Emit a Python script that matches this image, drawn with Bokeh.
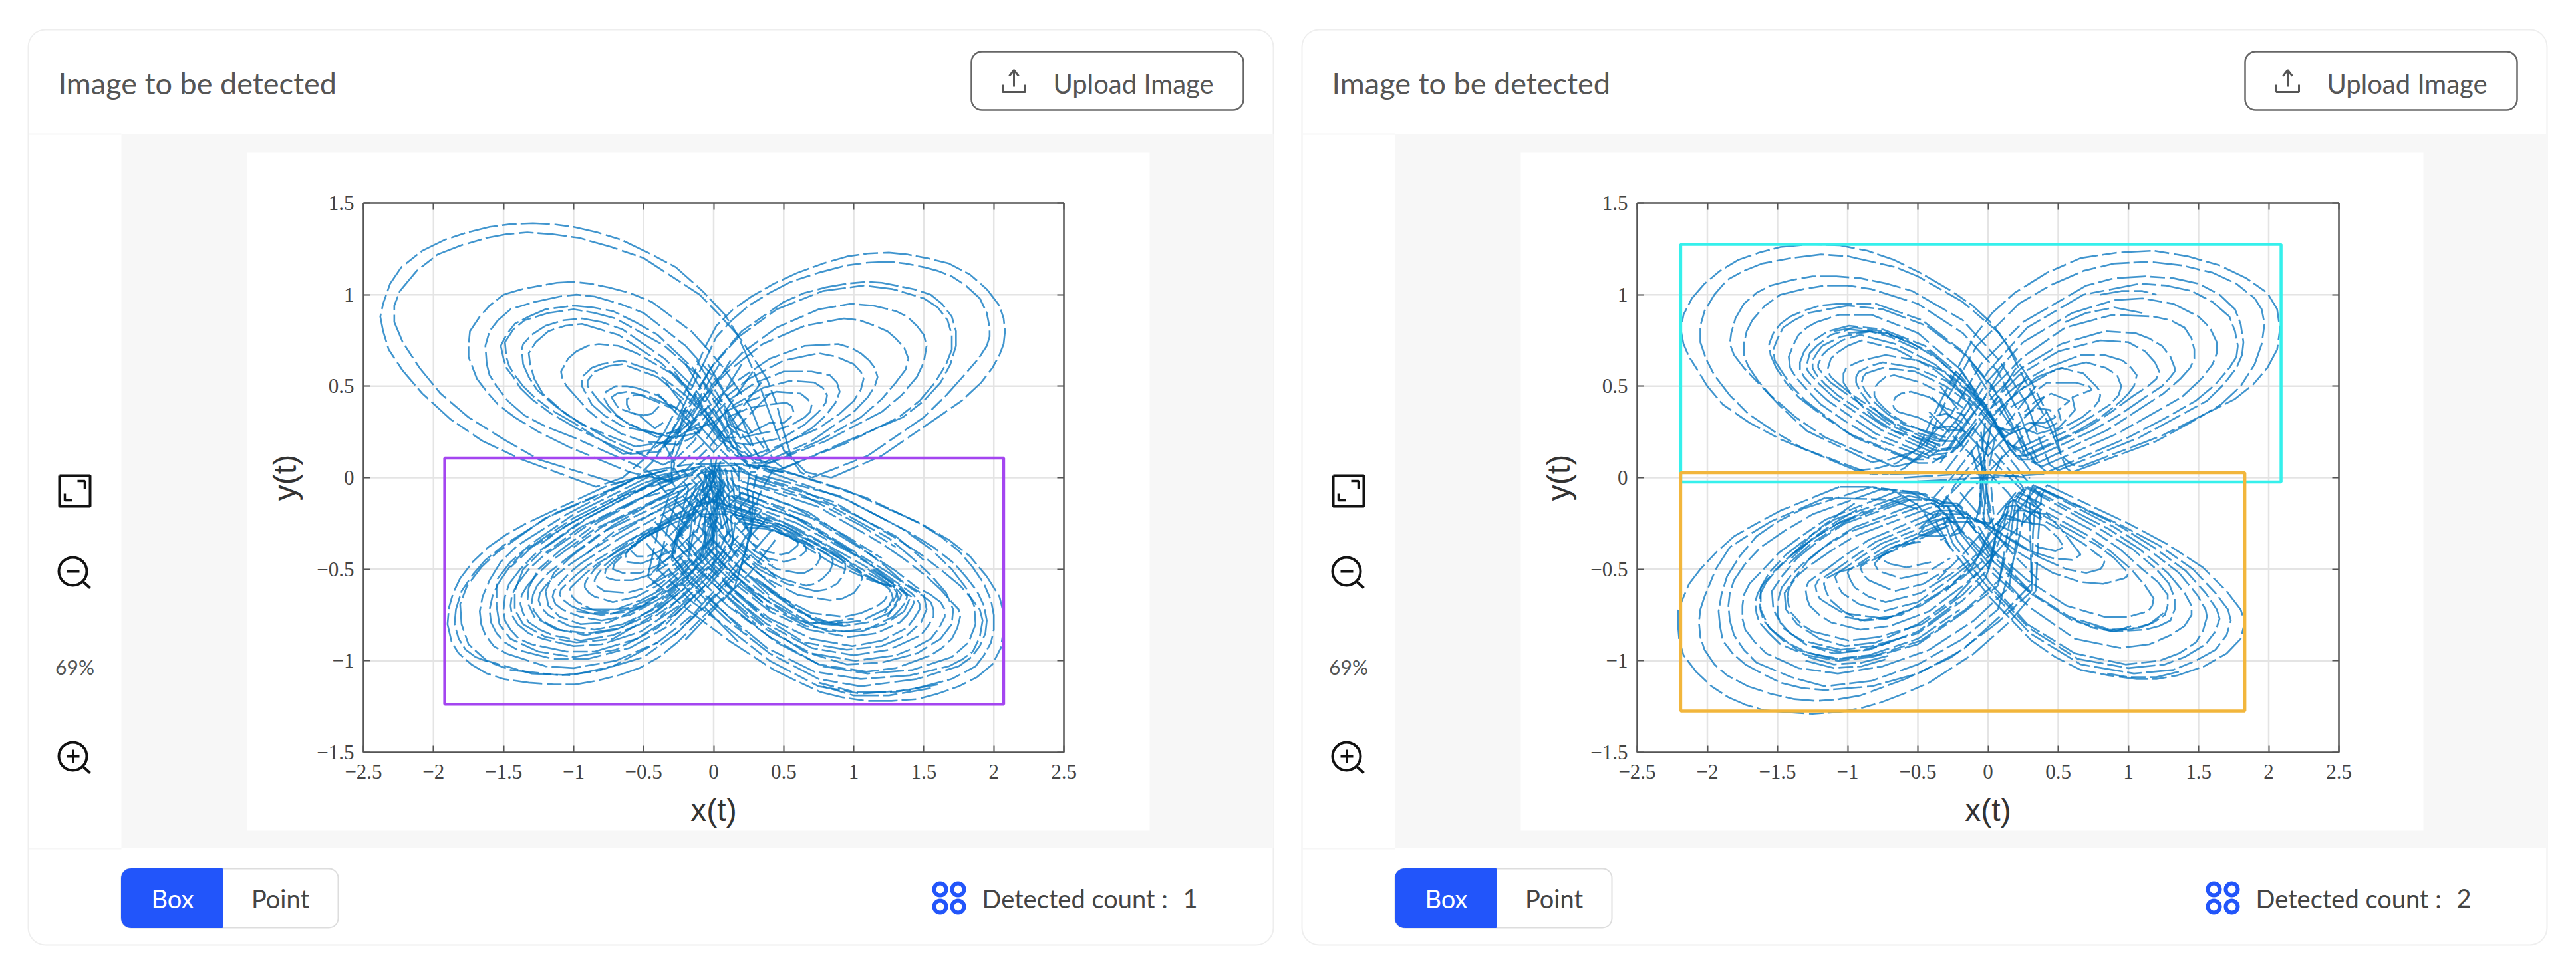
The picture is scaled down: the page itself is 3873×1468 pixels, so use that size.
# Two "Image to be detected" panels with the four wing attractor and detection boxes
from bokeh.core.properties import value
from bokeh.embed import file_html
from bokeh.layouts import row
from bokeh.models import BoxAnnotation, FixedTicker, LinearAxis, Range1d
from bokeh.plotting import figure
from bokeh.resources import INLINE

TICKS_X = [-2.5, -2, -1.5, -1, -0.5, 0, 0.5, 1, 1.5, 2, 2.5]
TICK_LABELS_X = ["−2.5", "−2", "−1.5", "−1", "−0.5", "0", "0.5", "1", "1.5", "2", "2.5"]
TICKS_Y = [-1.5, -1, -0.5, 0, 0.5, 1, 1.5]
TICK_LABELS_Y = ["−1.5", "−1", "−0.5", "0", "0.5", "1", "1.5"]

TITLE = "Image to be detected"
UPLOAD = "Upload Image"
ZOOM = "69%"
MODES = ["Box", "Point"]
COUNT_LABEL = "Detected count :"
COUNT_LEFT = "1"
COUNT_RIGHT = "2"

# detection boxes
BOX1_LEFT, BOX1_RIGHT, BOX1_TOP, BOX1_BOTTOM = [-1.92], [2.07], [0.107], [-1.238]
BOX2_LEFT, BOX2_RIGHT, BOX2_TOP, BOX2_BOTTOM = [-2.19, -2.19], [2.088, 1.83], [1.275, 0.027], [-0.024, -1.275]
BOX2_COLORS = ["#35f0ec", "#f2b63c"]

c1_tl = [
    [(-.84,-.05),(-1.37,.10),(-1.65,.2),(-1.88,.32),(-2.08,.46),(-2.22,.585),(-2.32,.7),(-2.36,.80),(-2.38,.88),(-2.36,.95),(-2.31,1.06),(-2.23,1.15),(-2.08,1.24),(-1.92,1.30),(-1.76,1.34),(-1.6,1.37),(-1.45,1.385),(-1.29,1.39),(-1.15,1.385),(-1,1.37),(-.83,1.34),(-.66,1.30),(-.47,1.23),(-.27,1.15),(-.08,1.02),(.08,.89),(.17,.78),(.24,.66),(.33,.5),(.4,.35)],
    [(-.70,-.03),(-1.25,.1),(-1.5,.21),(-1.75,.33),(-1.95,.46),(-2.1,.6),(-2.22,.74),(-2.28,.85),(-2.28,.94),(-2.24,1.02),(-2.12,1.13),(-1.97,1.22),(-1.8,1.27),(-1.62,1.31),(-1.48,1.33),(-1.33,1.34),(-1.15,1.33),(-.96,1.31),(-.73,1.26),(-.5,1.2),(-.3,1.1),(-.1,1),(.04,.89),(.17,.78),(.28,.66),(.38,.54),(.45,.4),(.5,.25)],
    [(-.3,-.02),(-.6,.03),(-1.04,.17),(-1.25,.25),(-1.42,.33),(-1.54,.4),(-1.62,.47),(-1.69,.54),(-1.72,.6),(-1.75,.66),(-1.75,.72),(-1.74,.8),(-1.67,.88),(-1.6,.94),(-1.5,1),(-1.37,1.03),(-1.23,1.05),(-1.12,1.065),(-1,1.07),(-.88,1.06),(-.75,1.04),(-.6,1.01),(-.44,.96),(-.3,.88),(-.16,.8),(-.04,.7),(.07,.6),(.26,.39)],
    [(-.3,-.03),(-.56,.07),(-1,.22),(-1.2,.28),(-1.35,.34),(-1.47,.42),(-1.55,.5),(-1.6,.56),(-1.62,.62),(-1.63,.72),(-1.6,.8),(-1.54,.86),(-1.45,.92),(-1.28,.96),(-1.1,.99),(-.98,1),(-.85,.99),(-.67,.95),(-.5,.9),(-.35,.81),(-.2,.72),(0,.55),(.2,.32)],
    [(-.6,.13),(-.98,.27),(-1.16,.35),(-1.3,.43),(-1.38,.49),(-1.43,.55),(-1.48,.6),(-1.5,.65),(-1.52,.72),(-1.48,.78),(-1.42,.84),(-1.32,.88),(-1.2,.92),(-1.1,.93),(-1,.94),(-.86,.93),(-.72,.91),(-.56,.85),(-.4,.78),(-.15,.6),(.1,.35)],
    [(-.65,.13),(-1,.3),(-1.16,.37),(-1.28,.44),(-1.36,.5),(-1.42,.56),(-1.46,.61),(-1.48,.66),(-1.49,.74),(-1.43,.81),(-1.35,.86),(-1.18,.9),(-1,.92),(-.85,.9),(-.7,.87),(-.35,.72),(-.1,.55),(.1,.3)],
    [(-.36,.07),(-.75,.21),(-1.04,.34),(-1.16,.41),(-1.26,.48),(-1.32,.55),(-1.36,.62),(-1.37,.7),(-1.36,.73),(-1.3,.78),(-1.2,.83),(-1.07,.86),(-.94,.87),(-.8,.85),(-.65,.81),(-.35,.65),(-.15,.5),(.05,.3)],
    [(-.56,.17),(-.94,.29),(-1.09,.37),(-1.22,.46),(-1.28,.54),(-1.31,.62),(-1.32,.68),(-1.27,.74),(-1.18,.8),(-1.06,.83),(-.94,.84),(-.68,.78),(-.38,.63),(-.15,.47),(.02,.28)],
    [(-.26,.18),(-.51,.2),(-.66,.24),(-.79,.3),(-.9,.37),(-.98,.44),(-1.05,.5),(-1.08,.54),(-1.09,.58),(-1.04,.65),(-.98,.69),(-.9,.72),(-.82,.73),(-.68,.72),(-.55,.68),(-.3,.57),(-.12,.42),(.1,.2)],
    [(-.4,.24),(-.65,.28),(-.78,.34),(-.87,.4),(-.94,.5),(-.94,.55),(-.87,.6),(-.8,.62),(-.65,.64),(-.42,.58),(-.2,.45),(-.02,.3)],
    [(-.4,.22),(-.62,.3),(-.74,.36),(-.82,.42),(-.9,.5),(-.9,.53),(-.85,.58),(-.75,.61),(-.65,.62),(-.4,.55),(-.2,.42)],
    [(-.3,.22),(-.49,.26),(-.6,.29),(-.69,.34),(-.75,.39),(-.78,.43),(-.77,.47),(-.7,.5),(-.62,.5),(-.55,.49),(-.4,.45),(-.25,.37),(-.1,.25)],
    [(-.36,.3),(-.42,.27),(-.53,.34),(-.68,.38),(-.73,.44),(-.69,.46),(-.62,.47),(-.45,.44),(-.33,.4),(-.2,.36)],
    [(-.39,.39),(-.44,.35),(-.5,.34),(-.57,.35),(-.6,.37),(-.62,.4),(-.62,.43),(-.57,.45),(-.52,.45),(-.42,.42),(-.3,.38)],
]

# left chart, top right wing
c1_tr = [
    [(.84,0),(1.2,.12),(1.6,.33),(1.77,.42),(1.91,.52),(1.99,.6),(2.04,.67),(2.07,.73),(2.08,.8),(2.07,.87),(2.04,.94),(1.95,1.03),(1.83,1.11),(1.68,1.17),(1.52,1.2),(1.38,1.22),(1.25,1.23),(1.1,1.225),(.96,1.21),(.78,1.17),(.6,1.12),(.43,1.06),(.27,.99),(.14,.92),(.02,.83),(-.07,.7),(-.15,.55),(-.35,.25)],
    [(.7,0),(1.1,.12),(1.5,.33),(1.66,.45),(1.8,.57),(1.89,.65),(1.95,.72),(1.97,.77),(1.97,.82),(1.95,.9),(1.9,.98),(1.8,1.05),(1.7,1.1),(1.6,1.13),(1.5,1.15),(1.37,1.17),(1.25,1.18),(1.1,1.175),(.95,1.16),(.75,1.12),(.55,1.07),(.4,1.01),(.25,.94),(.13,.86),(.02,.77),(-.15,.5),(-.3,.25)],
    [(.5,.05),(.95,.2),(1.35,.33),(1.5,.42),(1.62,.52),(1.69,.62),(1.73,.72),(1.73,.8),(1.7,.88),(1.63,.95),(1.55,1),(1.43,1.03),(1.3,1.05),(1.2,1.065),(1.09,1.07),(.95,1.06),(.8,1.04),(.65,1.01),(.5,.96),(.2,.8),(0,.62),(-.2,.38),(-.35,.18)],
    [(.42,.03),(.95,.19),(1.32,.33),(1.47,.42),(1.58,.52),(1.66,.62),(1.7,.7),(1.7,.78),(1.67,.86),(1.6,.93),(1.5,.98),(1.28,1.03),(1.07,1.05),(.78,1.02),(.45,.92),(.18,.77),(-.02,.6),(-.2,.35)],
    [(.4,.08),(.8,.2),(1.2,.36),(1.34,.45),(1.45,.55),(1.5,.63),(1.52,.72),(1.5,.78),(1.45,.83),(1.38,.88),(1.3,.91),(1.14,.94),(.98,.95),(.75,.92),(.45,.82),(.2,.68),(-.02,.5),(-.2,.28)],
    [(.3,.05),(.75,.2),(1.05,.33),(1.2,.43),(1.3,.52),(1.37,.59),(1.39,.65),(1.36,.71),(1.3,.76),(1.24,.8),(1.15,.83),(1.04,.86),(.93,.87),(.65,.83),(.35,.73),(.1,.58),(-.1,.42),(-.25,.25)],
    [(.35,.08),(.7,.2),(1,.36),(1.1,.44),(1.15,.5),(1.17,.55),(1.15,.6),(1.11,.64),(1.05,.68),(.98,.71),(.89,.73),(.65,.72),(.4,.65),(.15,.52),(-.05,.38),(-.2,.25)],
    [(.2,.1),(.45,.17),(.75,.27),(.9,.35),(1,.42),(1.05,.48),(1.07,.54),(1.05,.58),(1,.62),(.88,.66),(.75,.68),(.5,.64),(.25,.54),(.05,.42),(-.1,.3)],
    [(.3,.1),(.55,.2),(.7,.27),(.8,.34),(.87,.41),(.9,.47),(.88,.52),(.83,.56),(.7,.58),(.5,.58),(.3,.52),(.1,.42),(-.05,.3)],
    [(.25,.18),(.5,.22),(.65,.29),(.75,.36),(.8,.41),(.81,.45),(.78,.49),(.72,.52),(.55,.53),(.35,.49),(.15,.4),(0,.3)],
    [(.2,.22),(.45,.26),(.56,.29),(.65,.33),(.69,.36),(.7,.4),(.67,.43),(.62,.46),(.45,.47),(.25,.42),(.08,.36)],
    [(.25,.24),(.4,.3),(.5,.3),(.55,.33),(.57,.36),(.56,.39),(.52,.41),(.4,.4),(.25,.38),(.1,.33)],
]

# left chart, bottom left wing
c1_bl = [
    [(-.78,-.05),(-1.06,-.15),(-1.34,-.25),(-1.48,-.31),(-1.61,-.38),(-1.72,-.46),(-1.81,-.55),(-1.86,-.63),(-1.89,-.71),(-1.9,-.8),(-1.87,-.9),(-1.82,-.96),(-1.73,-1.02),(-1.62,-1.07),(-1.5,-1.1),(-1.32,-1.12),(-1.14,-1.13),(-.99,-1.13),(-.84,-1.11),(-.68,-1.08),(-.53,-1.04),(-.39,-.98),(-.26,-.9),(-.05,-.74),(.15,-.6)],
    [(-.6,-.02),(-1.15,-.2),(-1.5,-.37),(-1.63,-.45),(-1.72,-.53),(-1.8,-.62),(-1.84,-.72),(-1.85,-.8),(-1.82,-.88),(-1.77,-.94),(-1.7,-.98),(-1.45,-1.05),(-1.1,-1.08),(-.85,-1.06),(-.5,-.98),(-.25,-.84),(-.03,-.68),(.18,-.52)],
    [(-.55,0),(-1.05,-.2),(-1.4,-.37),(-1.52,-.46),(-1.6,-.56),(-1.65,-.65),(-1.67,-.73),(-1.66,-.8),(-1.63,-.86),(-1.57,-.92),(-1.48,-.96),(-1.2,-1.03),(-1,-1.04),(-.7,-1),(-.4,-.9),(-.15,-.75),(.05,-.58),(.22,-.42)],
    [(-.5,-.03),(-1,-.22),(-1.35,-.4),(-1.46,-.49),(-1.54,-.58),(-1.58,-.65),(-1.6,-.72),(-1.59,-.79),(-1.55,-.85),(-1.49,-.9),(-1.4,-.94),(-1.15,-.99),(-.9,-.99),(-.6,-.93),(-.3,-.8),(-.08,-.63),(.1,-.47),(.25,-.3)],
    [(-.42,-.02),(-.95,-.24),(-1.28,-.42),(-1.38,-.5),(-1.46,-.58),(-1.49,-.65),(-1.5,-.72),(-1.49,-.78),(-1.45,-.83),(-1.39,-.88),(-1.3,-.91),(-1.05,-.95),(-.85,-.95),(-.55,-.88),(-.28,-.75),(-.05,-.58),(.12,-.4)],
    [(-.36,-.05),(-.9,-.26),(-1.22,-.43),(-1.32,-.5),(-1.4,-.58),(-1.44,-.64),(-1.45,-.7),(-1.44,-.75),(-1.4,-.8),(-1.32,-.85),(-1.22,-.88),(-1,-.92),(-.8,-.91),(-.52,-.84),(-.25,-.7),(-.04,-.54),(.14,-.36)],
    [(-.3,-.08),(-.85,-.28),(-1.15,-.45),(-1.25,-.52),(-1.33,-.59),(-1.37,-.64),(-1.38,-.69),(-1.36,-.74),(-1.32,-.79),(-1.24,-.83),(-1.15,-.86),(-.95,-.89),(-.72,-.86),(-.46,-.78),(-.22,-.65),(-.02,-.5),(.12,-.33)],
    [(-.26,-.1),(-.8,-.3),(-1.08,-.46),(-1.18,-.52),(-1.26,-.59),(-1.29,-.64),(-1.3,-.69),(-1.28,-.73),(-1.24,-.77),(-1.18,-.8),(-1.1,-.83),(-.92,-.86),(-.7,-.83),(-.43,-.74),(-.2,-.6),(0,-.46),(.1,-.3)],
    [(-.22,-.1),(-.72,-.32),(-1.02,-.47),(-1.12,-.53),(-1.2,-.59),(-1.24,-.63),(-1.25,-.67),(-1.23,-.71),(-1.18,-.75),(-1.11,-.78),(-1.03,-.81),(-.85,-.83),(-.65,-.8),(-.4,-.71),(-.18,-.57),(.02,-.42)],
    [(-.2,-.13),(-.65,-.32),(-.95,-.47),(-1.03,-.52),(-1.1,-.58),(-1.14,-.62),(-1.15,-.65),(-1.13,-.69),(-1.08,-.72),(-1.02,-.74),(-.95,-.76),(-.8,-.78),(-.6,-.75),(-.38,-.66),(-.16,-.52),(0,-.38)],
    [(-.22,-.18),(-.6,-.34),(-.9,-.48),(-.98,-.53),(-1.05,-.58),(-1.09,-.61),(-1.1,-.64),(-1.07,-.67),(-1.02,-.7),(-.96,-.72),(-.88,-.74),(-.72,-.74),(-.52,-.7),(-.33,-.62),(-.14,-.5),(0,-.35)],
    [(-.25,-.2),(-.55,-.34),(-.83,-.47),(-.91,-.52),(-.98,-.57),(-1.02,-.6),(-1.03,-.62),(-1.01,-.65),(-.97,-.68),(-.92,-.7),(-.87,-.72),(-.7,-.72),(-.52,-.67),(-.32,-.59),(-.14,-.46),(0,-.32)],
    [(-.28,-.23),(-.55,-.32),(-.78,-.45),(-.85,-.5),(-.9,-.55),(-.92,-.58),(-.92,-.6),(-.89,-.63),(-.85,-.65),(-.72,-.68),(-.55,-.65),(-.38,-.58),(-.22,-.48),(-.06,-.36)],
    [(-.3,-.23),(-.5,-.33),(-.72,-.44),(-.78,-.48),(-.83,-.53),(-.85,-.56),(-.85,-.58),(-.82,-.6),(-.78,-.62),(-.62,-.63),(-.48,-.6),(-.32,-.53),(-.18,-.44)],
    [(-.32,-.26),(-.5,-.33),(-.68,-.43),(-.73,-.47),(-.77,-.5),(-.78,-.54),(-.75,-.55),(-.7,-.56),(-.58,-.56),(-.45,-.53),(-.3,-.46),(-.18,-.39)],
    [(-.35,-.27),(-.5,-.33),(-.63,-.41),(-.71,-.47),(-.72,-.5),(-.65,-.52),(-.52,-.52),(-.4,-.48),(-.28,-.42)],
    [(-.38,-.27),(-.5,-.31),(-.58,-.37),(-.63,-.42),(-.62,-.46),(-.52,-.47),(-.42,-.44),(-.3,-.4)],
    [(-.4,-.29),(-.48,-.32),(-.55,-.36),(-.59,-.4),(-.55,-.43),(-.47,-.43),(-.38,-.4),(-.33,-.36)],
    [(-.62,-.03),(-1.2,-.22),(-1.55,-.41),(-1.66,-.49),(-1.76,-.59),(-1.81,-.69),(-1.8,-.8),(-1.75,-.91),(-1.62,-1),(-1.3,-1.07),(-1.02,-1.08),(-.72,-1.03),(-.4,-.9)],
    [(-.45,.01),(-1,-.2),(-1.3,-.36),(-1.45,-.46),(-1.55,-.56),(-1.55,-.7),(-1.53,-.8),(-1.45,-.88),(-1.25,-.95),(-1,-.98),(-.7,-.94),(-.4,-.82),(-.15,-.64)],
    [(-.38,-.01),(-.9,-.22),(-1.2,-.38),(-1.36,-.5),(-1.42,-.62),(-1.42,-.72),(-1.36,-.8),(-1.2,-.87),(-.98,-.9),(-.72,-.88),(-.45,-.76),(-.2,-.6)],
    [(-.34,-.04),(-.82,-.24),(-1.1,-.4),(-1.25,-.5),(-1.32,-.6),(-1.33,-.68),(-1.28,-.76),(-1.12,-.83),(-.9,-.85),(-.66,-.82),(-.4,-.7),(-.18,-.55)],
    [(-.28,-.07),(-.72,-.26),(-1,-.42),(-1.14,-.52),(-1.2,-.62),(-1.18,-.7),(-1.1,-.76),(-.95,-.8),(-.75,-.79),(-.5,-.7),(-.26,-.56),(-.08,-.42)],
]

# left chart, bottom right wing
c1_br = [
    [(.57,.02),(1.09,-.11),(1.5,-.26),(1.68,-.34),(1.83,-.43),(1.95,-.54),(2.04,-.65),(2.07,-.74),(2.07,-.83),(2.05,-.93),(1.99,-1.02),(1.88,-1.09),(1.75,-1.14),(1.6,-1.18),(1.45,-1.21),(1.27,-1.22),(1.09,-1.22),(.92,-1.2),(.76,-1.17),(.59,-1.11),(.43,-1.05),(.11,-.89),(-.17,-.73),(-.47,-.54)],
    [(.45,.05),(.95,-.07),(1.45,-.24),(1.62,-.32),(1.75,-.4),(1.85,-.49),(1.93,-.58),(1.98,-.67),(2,-.75),(2,-.83),(1.98,-.9),(1.93,-.97),(1.87,-1.03),(1.7,-1.1),(1.4,-1.16),(1.05,-1.18),(.75,-1.14),(.4,-1),(.1,-.82),(-.15,-.68),(-.4,-.5)],
    [(.4,.03),(.95,-.12),(1.4,-.3),(1.57,-.38),(1.72,-.47),(1.81,-.55),(1.88,-.62),(1.93,-.7),(1.95,-.78),(1.94,-.85),(1.9,-.92),(1.84,-.98),(1.75,-1.03),(1.45,-1.1),(1.05,-1.14),(.75,-1.1),(.4,-.96),(.1,-.78),(-.12,-.62),(-.3,-.45)],
    [(.3,0),(.85,-.13),(1.3,-.33),(1.48,-.42),(1.65,-.52),(1.76,-.59),(1.84,-.66),(1.9,-.72),(1.92,-.78),(1.9,-.87),(1.85,-.95),(1.78,-.99),(1.68,-1.03),(1.4,-1.08),(1.05,-1.1),(.72,-1.06),(.38,-.93),(.08,-.74),(-.15,-.58),(-.3,-.42)],
    [(.2,-.02),(.75,-.16),(1.2,-.36),(1.37,-.45),(1.52,-.54),(1.62,-.61),(1.7,-.68),(1.75,-.72),(1.76,-.76),(1.74,-.82),(1.7,-.88),(1.63,-.93),(1.55,-.97),(1.3,-1.04),(1.09,-1.06),(.75,-1.02),(.4,-.87),(.1,-.7),(-.15,-.52),(-.3,-.38)],
    [(.18,-.08),(.7,-.22),(1.12,-.42),(1.3,-.51),(1.45,-.6),(1.55,-.64),(1.62,-.68),(1.65,-.72),(1.65,-.76),(1.61,-.82),(1.55,-.88),(1.43,-.93),(1.3,-.97),(1.01,-1),(.7,-.96),(.38,-.83),(.1,-.65),(-.12,-.5),(-.28,-.35)],
    [(.16,-.1),(.66,-.24),(1.08,-.44),(1.25,-.52),(1.4,-.6),(1.5,-.65),(1.55,-.68),(1.57,-.72),(1.57,-.76),(1.53,-.81),(1.48,-.86),(1.25,-.94),(1,-.97),(.7,-.93),(.38,-.8),(.1,-.63),(-.1,-.48),(-.26,-.33)],
    [(.15,-.12),(.6,-.25),(1,-.42),(1.17,-.5),(1.32,-.58),(1.41,-.63),(1.45,-.66),(1.47,-.69),(1.47,-.72),(1.43,-.77),(1.38,-.82),(1.2,-.89),(.99,-.92),(.7,-.88),(.4,-.77),(.12,-.6),(-.1,-.45),(-.25,-.3)],
    [(.12,-.12),(.58,-.27),(.98,-.44),(1.14,-.51),(1.28,-.58),(1.37,-.63),(1.41,-.65),(1.43,-.68),(1.42,-.7),(1.38,-.75),(1.33,-.79),(1.16,-.85),(.96,-.87),(.68,-.83),(.4,-.73),(.12,-.56),(-.08,-.42)],
    [(.1,-.14),(.55,-.28),(.95,-.45),(1.1,-.52),(1.24,-.58),(1.33,-.61),(1.36,-.63),(1.38,-.65),(1.37,-.68),(1.33,-.72),(1.28,-.76),(1.12,-.82),(.93,-.84),(.66,-.81),(.38,-.7),(.12,-.54),(-.06,-.4)],
    [(.08,-.15),(.52,-.27),(.92,-.45),(1.06,-.52),(1.2,-.58),(1.29,-.6),(1.32,-.62),(1.34,-.64),(1.33,-.66),(1.3,-.7),(1.25,-.74),(1.1,-.79),(.93,-.81),(.66,-.79),(.38,-.67),(.12,-.52),(-.04,-.38)],
    [(.06,-.16),(.5,-.28),(.9,-.46),(1.04,-.52),(1.17,-.57),(1.26,-.59),(1.29,-.61),(1.31,-.63),(1.3,-.65),(1.27,-.69),(1.22,-.72),(1.06,-.78),(.86,-.8),(.68,-.79),(.4,-.66),(.14,-.5),(-.02,-.36)],
    [(.08,-.18),(.45,-.28),(.85,-.47),(1,-.52),(1.12,-.56),(1.2,-.58),(1.24,-.6),(1.26,-.615),(1.25,-.63),(1.22,-.67),(1.17,-.7),(1.05,-.74),(.93,-.76),(.7,-.74),(.42,-.63),(.16,-.48),(0,-.34)],
    [(.14,-.16),(.48,-.24),(.78,-.36),(.9,-.42),(1,-.48),(1.05,-.52),(1.06,-.55),(1.04,-.59),(1,-.63),(.92,-.66),(.83,-.67),(.6,-.64),(.35,-.54),(.15,-.42),(.05,-.3)],
    [(.14,-.2),(.42,-.25),(.7,-.35),(.82,-.4),(.9,-.44),(.94,-.47),(.94,-.5),(.92,-.54),(.88,-.58),(.81,-.61),(.73,-.62),(.52,-.58),(.32,-.5),(.15,-.38)],
    [(.16,-.22),(.4,-.26),(.65,-.35),(.75,-.39),(.82,-.42),(.85,-.45),(.85,-.47),(.83,-.51),(.78,-.55),(.72,-.58),(.66,-.59),(.48,-.55),(.3,-.47),(.15,-.36)],
    [(.18,-.24),(.38,-.27),(.6,-.34),(.68,-.37),(.74,-.4),(.76,-.42),(.76,-.44),(.74,-.47),(.7,-.5),(.65,-.52),(.6,-.52),(.45,-.5),(.3,-.43),(.18,-.35)],
    [(.2,-.25),(.38,-.27),(.55,-.33),(.64,-.36),(.66,-.38),(.66,-.4),(.6,-.44),(.5,-.46),(.38,-.44),(.27,-.39)],
    [(.22,-.27),(.38,-.28),(.5,-.31),(.58,-.33),(.6,-.35),(.6,-.37),(.54,-.41),(.48,-.42),(.36,-.4),(.28,-.36)],
    [(.35,.01),(.9,-.1),(1.35,-.28),(1.55,-.39),(1.7,-.5),(1.8,-.6),(1.86,-.7),(1.87,-.8),(1.82,-.9),(1.7,-.98),(1.42,-1.05),(1.1,-1.07),(.78,-1.03),(.45,-.9),(.15,-.72)],
    [(.26,-.03),(.8,-.14),(1.25,-.33),(1.42,-.44),(1.56,-.54),(1.66,-.63),(1.71,-.72),(1.7,-.8),(1.62,-.88),(1.45,-.96),(1.2,-1.01),(.95,-1.02),(.65,-.95),(.35,-.8),(.1,-.62)],
    [(.22,-.06),(.68,-.19),(1.05,-.38),(1.22,-.48),(1.35,-.57),(1.5,-.64),(1.52,-.72),(1.48,-.79),(1.38,-.86),(1.2,-.92),(.95,-.94),(.65,-.9),(.35,-.76),(.08,-.58)],
    [(.12,-.1),(.6,-.22),(.98,-.4),(1.13,-.48),(1.24,-.55),(1.34,-.6),(1.4,-.66),(1.36,-.73),(1.22,-.8),(1.05,-.84),(.82,-.84),(.55,-.76),(.28,-.62),(.05,-.46)],
]

# left chart, the lines through the middle
c1_mid = [
    [(-.47,-.54),(-.4,-.3),(-.32,-.1),(-.45,.02),(-.78,-.05)],[(-.4,-.5),(-.33,-.28),(-.25,-.08),(-.35,.04),(-.6,-.02)],
    [(-.3,-.45),(-.25,-.25),(-.18,-.06),(-.28,.05),(-.55,0)],[(-.3,-.42),(-.22,-.22),(-.12,-.04),(-.22,.04),(-.5,-.03)],
    [(-.3,-.38),(-.18,-.2),(-.08,-.02),(-.15,.05),(-.42,-.02)],[(-.28,-.35),(-.14,-.18),(-.05,0),(-.1,.05),(-.36,-.05)],
    [(-.26,-.33),(-.1,-.16),(-.02,.02),(-.08,.07),(-.3,-.08)],[(-.25,-.3),(-.08,-.14),(.02,.02),(-.05,.06),(-.26,-.1)],
    [(-.1,-.45),(-.04,-.25),(.04,-.05),(-.02,.03),(-.22,-.1)],[(-.08,-.42),(-.02,-.22),(.06,-.03),(0,.04),(-.2,-.13)],
    [(-.06,-.4),(0,-.2),(.08,-.04),(.02,.01),(-.22,-.18)],[(-.04,-.38),(.02,-.2),(.06,-.08),(0,-.05),(-.25,-.2)],
    [(-.02,-.36),(.03,-.2),(.02,-.12),(-.08,-.14),(-.28,-.23)],[(0,-.34),(.02,-.22),(-.05,-.17),(-.3,-.23)],[(.05,-.3),(-.02,-.22),(-.15,-.2),(-.32,-.26)],
    [(.15,-.6),(.25,-.34),(.32,-.1),(.42,.04),(.57,.02)],[(.18,-.52),(.27,-.3),(.28,-.08),(.32,.07),(.45,.05)],
    [(.22,-.42),(.27,-.26),(.24,-.06),(.26,.07),(.4,.03)],[(.25,-.3),(.2,-.2),(.18,-.04),(.18,.06),(.3,0)],
    [(.12,-.4),(.16,-.22),(.14,-.04),(.12,.07),(.2,-.02)],[(.14,-.36),(.12,-.2),(.1,-.02),(.08,.05),(.18,-.08)],
    [(.12,-.33),(.08,-.18),(.06,-.02),(.04,.06),(.16,-.1)],[(.1,-.3),(.05,-.16),(.02,-.02),(0,.07),(.15,-.12)],
    [(.02,-.42),(.02,-.22),(-.02,-.04),(-.04,.06),(.12,-.12)],[(0,-.38),(-.01,-.2),(-.05,-.04),(-.06,.05),(.1,-.14)],
    [(0,-.35),(-.03,-.2),(-.08,-.06),(-.06,.02),(.08,-.15)],[(-.06,-.36),(-.06,-.22),(-.1,-.1),(-.04,-.04),(.06,-.16)],
    [(-.18,-.44),(-.14,-.28),(-.12,-.14),(-.04,-.1),(.08,-.18)],[(-.18,-.39),(-.16,-.26),(-.14,-.16),(0,-.13),(.14,-.16)],[(-.28,-.42),(-.24,-.28),(-.16,-.2),(.14,-.2)],
    [(.4,.35),(.5,.15),(.66,.03),(.84,0)],[(.5,.25),(.56,.1),(.62,.03),(.7,0)],[(.26,.39),(.36,.2),(.43,.09),(.5,.05)],
    [(.2,.32),(.3,.14),(.36,.06),(.42,.03)],[(.1,.35),(.22,.17),(.3,.1),(.4,.08)],[(.1,.3),(.18,.14),(.24,.07),(.3,.05)],
    [(.05,.3),(.15,.15),(.25,.08),(.35,.08)],[(.02,.28),(.1,.15),(.2,.1)],[(.1,.2),(.2,.12),(.3,.1)],[(-.02,.3),(.08,.2),(.25,.18)],
    [(-.05,.3),(.05,.2),(.3,.1)],[(0,.3),(.08,.22),(.2,.22)],[(.08,.36),(.1,.28),(.2,.22)],[(.1,.33),(.13,.28),(.25,.24)],
    [(-.35,.25),(-.5,.1),(-.65,0),(-.84,-.05)],[(-.3,.25),(-.42,.1),(-.55,0),(-.7,-.03)],[(-.35,.18),(-.28,.08),(-.3,-.02)],
    [(-.2,.38),(-.3,.12),(-.3,-.03)],[(-.2,.28),(-.4,.14),(-.6,.13)],[(-.25,.25),(-.45,.15),(-.65,.13)],[(-.2,.25),(-.28,.1),(-.36,.07)],
    [(-.1,.3),(-.3,.2),(-.56,.17)],[(-.05,.3),(-.15,.22),(-.26,.18)],[(0,.3),(-.2,.25),(-.4,.24)],[(-.05,.38),(-.2,.28),(-.4,.22)],[(-.1,.25),(-.2,.23),(-.3,.22)],
    [(.02,.1),(-.03,-.1),(-.08,-.3)],[(-.02,.1),(.02,-.1),(.06,-.28)],[(.05,.09),(-.06,-.12),(-.12,-.3)],[(.04,.06),(.05,-.1),(.1,-.25)],
    [(-.5,.03),(-.2,.07),(.1,.08),(.4,.06)],[(-.4,.01),(-.1,.06),(.2,.07),(.5,.03)],[(-.35,-.02),(0,.04),(.3,.03)],
    # crossing hatch below the middle
    [(-.42,-.24),(-.2,-.42),(.05,-.62),(.3,-.8)],[(-.36,-.2),(-.14,-.38),(.1,-.58),(.36,-.76)],[(-.32,-.16),(-.08,-.36),(.16,-.54),(.4,-.72)],
    [(-.28,-.12),(-.04,-.32),(.2,-.5),(.42,-.66)],[(-.22,-.1),(0,-.28),(.22,-.46),(.44,-.6)],[(-.16,-.08),(.05,-.26),(.26,-.42),(.44,-.54)],
    [(-.1,-.06),(.1,-.22),(.3,-.38),(.42,-.48)],[(-.04,-.04),(.14,-.2),(.32,-.34)],[(-.46,-.3),(-.26,-.46),(0,-.68),(.24,-.86)],[(-.48,-.36),(-.3,-.52),(-.05,-.72),(.18,-.9)],
    [(.38,-.22),(.14,-.42),(-.1,-.62),(-.34,-.8)],[(.34,-.18),(.1,-.38),(-.14,-.58),(-.38,-.76)],[(.3,-.14),(.06,-.34),(-.18,-.54),(-.42,-.7)],
    [(.26,-.1),(.02,-.3),(-.22,-.5),(-.44,-.64)],[(.2,-.08),(-.02,-.26),(-.26,-.46),(-.44,-.58)],[(.14,-.06),(-.06,-.24),(-.3,-.42),(-.44,-.52)],
    [(.08,-.04),(-.1,-.2),(-.32,-.38),(-.42,-.46)],[(.02,-.02),(-.14,-.18),(-.32,-.32)],[(.42,-.28),(.22,-.46),(-.04,-.68),(-.28,-.86)],[(.44,-.34),(.26,-.52),(0,-.72),(-.22,-.9)],
    # crossing hatch above the middle
    [(-.4,.46),(-.2,.3),(0,.14),(.16,.04)],[(-.34,.52),(-.14,.32),(.04,.16),(.2,.04)],[(-.28,.58),(-.08,.36),(.08,.18),(.26,.06)],
    [(-.2,.62),(-.02,.4),(.14,.2),(.3,.08)],[(-.12,.64),(.04,.44),(.2,.24),(.34,.1)],[(-.04,.62),(.1,.44),(.26,.26),(.38,.14)],
    [(.4,.46),(.2,.3),(0,.14),(-.16,.04)],[(.34,.52),(.14,.32),(-.04,.16),(-.2,.04)],[(.28,.58),(.08,.36),(-.08,.18),(-.26,.06)],
    [(.2,.62),(.02,.4),(-.14,.2),(-.3,.08)],[(.12,.64),(-.04,.44),(-.2,.24),(-.34,.1)],[(.04,.62),(-.1,.44),(-.26,.26),(-.38,.14)],
    # heavy bands along the wing edges
    [(-.2,.02),(-.6,-.08),(-1,-.24),(-1.3,-.38),(-1.45,-.49)],[(-.25,0),(-.65,-.1),(-1.05,-.26),(-1.25,-.37)],[(-.15,-.03),(-.55,-.12),(-.95,-.27),(-1.2,-.41)],
    [(-.2,-.06),(-.5,-.16),(-.8,-.27),(-1,-.38)],[(-.15,-.1),(-.45,-.2),(-.72,-.3),(-.9,-.41)],[(-.95,-.71),(-.8,-.73),(-.6,-.71),(-.42,-.65)],[(-.98,-.73),(-.8,-.75),(-.6,-.73),(-.45,-.68)],
    [(.2,.03),(.6,-.06),(1,-.2),(1.3,-.32),(1.5,-.45)],[(.25,0),(.65,-.1),(1.05,-.26),(1.3,-.38)],[(.15,-.04),(.55,-.15),(.95,-.32),(1.2,-.44)],
    [(.2,-.08),(.5,-.18),(.8,-.32),(1.05,-.44)],[(.3,-.55),(.5,-.66),(.7,-.77),(.95,-.81)],[(.35,-.58),(.55,-.7),(.75,-.79),(.95,-.79)],[(.4,-.62),(.6,-.73),(.82,-.79),(1,-.77)],
    [(1.1,-.5),(1.25,-.58),(1.28,-.66),(1.22,-.74)],[(1.14,-.5),(1.28,-.58),(1.32,-.66),(1.24,-.76)],[(1.6,-1.13),(1.3,-1.17),(1,-1.17),(.75,-1.12)],[(1.55,-1.15),(1.25,-1.19),(1,-1.19),(.78,-1.14)],
]

# right chart, top left wing
c2_tl = [
    [(-.94,.04),(-1.48,.21),(-1.7,.3),(-1.89,.4),(-2,.5),(-2.08,.6),(-2.13,.66),(-2.17,.73),(-2.19,.81),(-2.17,.89),(-2.11,.98),(-2.02,1.06),(-1.91,1.13),(-1.78,1.19),(-1.63,1.23),(-1.48,1.26),(-1.27,1.275),(-1.06,1.27),(-.86,1.24),(-.67,1.19),(-.46,1.11),(-.26,1.02),(-.11,.94),(.03,.84),(.14,.72),(.23,.58),(.44,.28)],
    [(-.83,.02),(-1.32,.16),(-1.52,.25),(-1.71,.35),(-1.84,.45),(-1.95,.56),(-2.01,.65),(-2.05,.74),(-2.05,.83),(-2.02,.91),(-1.95,1),(-1.86,1.08),(-1.74,1.13),(-1.61,1.17),(-1.4,1.2),(-1.19,1.22),(-1,1.21),(-.83,1.18),(-.66,1.15),(-.5,1.1),(-.18,.96),(.08,.79),(.31,.52),(.47,.28)],
    [(-.83,.085),(-1.29,.255),(-1.48,.39),(-1.64,.52),(-1.74,.6),(-1.81,.67),(-1.84,.73),(-1.83,.79),(-1.8,.87),(-1.74,.95),(-1.65,1.01),(-1.55,1.05),(-1.4,1.08),(-1.25,1.1),(-1.08,1.1),(-.91,1.09),(-.72,1.06),(-.54,1.02),(-.18,.86),(.08,.64),(.28,.4)],
    [(-.67,.06),(-1.16,.22),(-1.37,.33),(-1.55,.45),(-1.64,.53),(-1.71,.61),(-1.74,.67),(-1.74,.73),(-1.72,.8),(-1.68,.86),(-1.59,.94),(-1.48,1),(-1.32,1.03),(-1.16,1.05),(-1,1.05),(-.83,1.03),(-.5,.95),(-.18,.79),(.07,.58),(.23,.34)],
    [(-.54,.1),(-.99,.24),(-1.18,.34),(-1.35,.44),(-1.44,.52),(-1.51,.6),(-1.55,.67),(-1.56,.73),(-1.53,.79),(-1.48,.84),(-1.41,.88),(-1.32,.91),(-1.2,.94),(-1.07,.95),(-.8,.95),(-.47,.86),(-.18,.69),(.03,.5),(.21,.28)],
    [(-.5,.08),(-.95,.22),(-1.13,.32),(-1.3,.42),(-1.4,.5),(-1.47,.58),(-1.52,.64),(-1.53,.7),(-1.5,.76),(-1.46,.82),(-1.38,.86),(-1.28,.9),(-1,.94),(-.75,.92),(-.44,.83),(-.16,.67),(.05,.47),(.2,.25)],
    [(-.44,.11),(-.83,.22),(-1.02,.31),(-1.19,.4),(-1.29,.48),(-1.37,.55),(-1.41,.6),(-1.42,.66),(-1.39,.72),(-1.35,.78),(-1.29,.82),(-1.22,.85),(-1.06,.89),(-.83,.89),(-.5,.79),(-.21,.6),(-.02,.4),(.15,.16)],
    [(-.42,.12),(-.8,.24),(-1.14,.42),(-1.24,.49),(-1.31,.55),(-1.34,.59),(-1.34,.63),(-1.31,.69),(-1.26,.74),(-1.14,.8),(-.99,.83),(-.75,.81),(-.45,.72),(-.2,.56),(0,.38),(.14,.18)],
    [(-.4,.14),(-.76,.26),(-1.1,.44),(-1.2,.51),(-1.26,.56),(-1.29,.59),(-1.29,.62),(-1.27,.68),(-1.22,.72),(-1.12,.78),(-.99,.81),(-.72,.79),(-.42,.69),(-.18,.53),(0,.36)],
    [(-.38,.15),(-.74,.28),(-1.07,.45),(-1.16,.51),(-1.22,.56),(-1.25,.6),(-1.25,.64),(-1.22,.68),(-1.18,.72),(-1.05,.77),(-.83,.8),(-.6,.76),(-.36,.65),(-.14,.5),(.02,.34)],
    [(-.36,.16),(-.7,.29),(-1.03,.47),(-1.12,.52),(-1.18,.57),(-1.21,.6),(-1.21,.62),(-1.18,.67),(-1.14,.7),(-1.04,.75),(-.91,.78),(-.66,.73),(-.38,.62),(-.14,.47),(.03,.32)],
    [(-.34,.17),(-.67,.3),(-.98,.46),(-1.06,.51),(-1.12,.55),(-1.14,.58),(-1.14,.6),(-1.12,.65),(-1.08,.68),(-1,.72),(-.9,.75),(-.65,.7),(-.38,.59),(-.13,.44),(.03,.3)],
    [(-.34,.18),(-.67,.255),(-.8,.32),(-.91,.4),(-.98,.46),(-1.03,.52),(-1.03,.57),(-1.01,.6),(-.96,.62),(-.9,.64),(-.73,.67),(-.5,.64),(-.28,.57),(-.1,.45),(.07,.28)],
    [(-.3,.2),(-.62,.27),(-.75,.33),(-.85,.41),(-.91,.47),(-.94,.52),(-.94,.55),(-.92,.58),(-.84,.61),(-.75,.63),(-.52,.6),(-.3,.53),(-.12,.42),(.03,.28)],
    [(-.3,.22),(-.6,.29),(-.72,.35),(-.82,.42),(-.88,.48),(-.9,.52),(-.89,.55),(-.87,.57),(-.75,.6),(-.52,.58),(-.3,.5),(-.12,.4)],
    [(-.36,.22),(-.6,.3),(-.68,.34),(-.74,.38),(-.79,.42),(-.81,.45),(-.81,.49),(-.78,.52),(-.73,.55),(-.67,.56),(-.48,.52),(-.3,.45),(-.14,.36)],
    [(-.5,.33),(-.64,.36),(-.67,.38),(-.68,.41),(-.66,.44),(-.62,.46),(-.55,.47),(-.42,.44),(-.3,.38),(-.16,.34)],
    [(-.5,.33),(-.42,.3),(-.32,.26),(-.2,.26),(-.18,.3),(-.3,.35),(-.42,.33)],
    [(-.44,.22),(-.36,.2),(-.22,.2),(-.16,.25),(-.26,.28),(-.4,.27)],
]

# right chart, top right wing
c2_tr = [
    [(.66,.06),(1.24,.23),(1.5,.33),(1.76,.43),(1.89,.51),(1.99,.6),(2.06,.7),(2.08,.81),(2.06,.92),(1.99,1.01),(1.84,1.09),(1.65,1.16),(1.42,1.21),(1.18,1.24),(.92,1.23),(.66,1.2),(.42,1.12),(.19,1.01),(.03,.9),(-.1,.77),(-.33,.43),(-.5,.16)],
    [(.6,.03),(1.2,.2),(1.44,.3),(1.66,.4),(1.8,.5),(1.9,.62),(1.95,.73),(1.97,.84),(1.95,.92),(1.9,.98),(1.77,1.06),(1.6,1.12),(1.38,1.16),(1.15,1.18),(.9,1.17),(.68,1.13),(.44,1.05),(.22,.95),(-.08,.72),(-.3,.42),(-.46,.14)],
    [(.5,.04),(1.08,.22),(1.32,.32),(1.56,.42),(1.68,.51),(1.77,.6),(1.81,.67),(1.82,.74),(1.8,.84),(1.76,.92),(1.65,1),(1.5,1.06),(1.32,1.09),(1.12,1.1),(.9,1.09),(.7,1.05),(.25,.85),(-.05,.62),(-.26,.35)],
    [(.42,.03),(1,.22),(1.25,.32),(1.48,.42),(1.62,.51),(1.72,.6),(1.77,.66),(1.78,.72),(1.76,.8),(1.72,.88),(1.6,.96),(1.45,1.02),(1.27,1.05),(1.08,1.06),(.68,1),(.28,.82),(0,.58),(-.22,.32)],
    [(.38,.06),(.92,.24),(1.15,.34),(1.38,.44),(1.52,.54),(1.6,.62),(1.63,.68),(1.63,.74),(1.58,.82),(1.5,.88),(1.32,.95),(1.1,.98),(.9,.97),(.6,.9),(.25,.74),(0,.53),(-.2,.3)],
    [(.35,.08),(.85,.26),(1.05,.36),(1.25,.46),(1.37,.54),(1.44,.6),(1.47,.65),(1.47,.7),(1.45,.76),(1.4,.82),(1.3,.86),(1.18,.88),(.89,.89),(.55,.82),(.25,.66),(.02,.48),(-.18,.28)],
    [(.3,.1),(.75,.26),(.95,.35),(1.12,.44),(1.24,.5),(1.3,.55),(1.33,.58),(1.33,.6),(1.3,.66),(1.24,.72),(1.15,.76),(1.05,.79),(.83,.8),(.52,.73),(.24,.6),(.03,.44),(-.14,.26)],
    [(.28,.12),(.7,.27),(.88,.36),(1.04,.45),(1.14,.5),(1.2,.54),(1.22,.58),(1.19,.63),(1.12,.69),(1,.74),(.8,.75),(.5,.69),(.22,.56),(.03,.41)],
    [(.26,.12),(.65,.26),(.82,.34),(.95,.42),(1,.46),(1.04,.5),(1.06,.56),(1.02,.6),(.96,.64),(.83,.67),(.66,.67),(.42,.6),(.2,.5),(.02,.38)],
    [(.24,.14),(.6,.27),(.75,.34),(.87,.4),(.93,.45),(.95,.5),(.92,.56),(.84,.6),(.7,.63),(.48,.59),(.25,.49),(.05,.36)],
    [(.22,.16),(.55,.28),(.67,.33),(.75,.38),(.79,.42),(.8,.45),(.79,.48),(.77,.5),(.68,.57),(.52,.6),(.35,.55),(.18,.45),(.04,.34)],
    [(.25,.27),(.35,.24),(.5,.27),(.62,.37),(.6,.44),(.74,.48),(.72,.5),(.62,.52),(.42,.52),(.3,.45),(.15,.38)],
    [(.3,.3),(.42,.27),(.52,.31),(.5,.37),(.58,.42),(.45,.46),(.34,.42),(.26,.36)],
    [(.3,.3),(.4,.3),(.48,.33),(.44,.37),(.35,.38),(.26,.34)],
]

# right chart, bottom left wing
c2_bl = [
    [(-1.06,-.05),(-1.48,-.18),(-1.65,-.25),(-1.81,-.32),(-1.94,-.41),(-2.05,-.5),(-2.13,-.58),(-2.18,-.67),(-2.21,-.73),(-2.21,-.8),(-2.2,-.89),(-2.17,-.97),(-2.08,-1.06),(-1.97,-1.14),(-1.85,-1.2),(-1.73,-1.24),(-1.6,-1.27),(-1.45,-1.28),(-1.25,-1.29),(-1.06,-1.28),(-.91,-1.26),(-.77,-1.23),(-.6,-1.18),(-.42,-1.12),(-.1,-.96),(.15,-.79),(.34,-.62)],
    [(-1.16,-.11),(-1.55,-.24),(-1.7,-.31),(-1.84,-.38),(-1.94,-.5),(-2.02,-.65),(-2.05,-.72),(-2.06,-.79),(-2.05,-.87),(-2.02,-.94),(-1.95,-1.02),(-1.86,-1.08),(-1.71,-1.14),(-1.55,-1.18),(-1.38,-1.21),(-1.22,-1.22),(-1.06,-1.21),(-.91,-1.19),(-.59,-1.1),(-.26,-.98),(.07,-.79),(.31,-.62)],
    [(-.83,-.05),(-1.32,-.17),(-1.5,-.24),(-1.65,-.32),(-1.77,-.43),(-1.86,-.54),(-1.9,-.64),(-1.92,-.73),(-1.91,-.81),(-1.89,-.89),(-1.82,-.96),(-1.73,-1.02),(-1.61,-1.07),(-1.48,-1.12),(-1.32,-1.15),(-1.16,-1.16),(-.83,-1.14),(-.5,-1.07),(-.18,-.94),(.11,-.74),(.31,-.58)],
    [(-.75,-.06),(-1.25,-.2),(-1.45,-.29),(-1.62,-.38),(-1.73,-.47),(-1.81,-.56),(-1.84,-.63),(-1.85,-.7),(-1.84,-.78),(-1.81,-.86),(-1.74,-.94),(-1.65,-1.01),(-1.4,-1.09),(-1.16,-1.14),(-.83,-1.11),(-.5,-1.02),(-.18,-.88),(.07,-.72)],
    [(-.67,-.08),(-1.16,-.23),(-1.33,-.32),(-1.49,-.41),(-1.6,-.5),(-1.7,-.58),(-1.74,-.64),(-1.75,-.7),(-1.75,-.77),(-1.73,-.83),(-1.66,-.9),(-1.58,-.96),(-1.35,-1.04),(-1.07,-1.07),(-.75,-1.03),(-.42,-.94),(-.1,-.78),(.15,-.6)],
    [(-.59,-.12),(-1.07,-.25),(-1.24,-.33),(-1.4,-.42),(-1.51,-.5),(-1.6,-.58),(-1.64,-.63),(-1.66,-.68),(-1.65,-.74),(-1.63,-.79),(-1.56,-.85),(-1.48,-.91),(-1.29,-.97),(-1.07,-1),(-.83,-.98),(-.5,-.91),(-.18,-.74),(.07,-.59)],
    [(-.57,-.1),(-1.05,-.24),(-1.22,-.32),(-1.38,-.41),(-1.49,-.49),(-1.58,-.57),(-1.62,-.63),(-1.63,-.68),(-1.62,-.73),(-1.6,-.78),(-1.53,-.84),(-1.46,-.89),(-1.27,-.96),(-1.05,-.99),(-.8,-.97),(-.48,-.89),(-.16,-.72),(.08,-.56)],
    [(-.42,-.14),(-1,-.3),(-1.17,-.38),(-1.32,-.47),(-1.41,-.54),(-1.47,-.6),(-1.49,-.65),(-1.5,-.7),(-1.5,-.75),(-1.48,-.79),(-1.41,-.85),(-1.32,-.89),(-1.05,-.94),(-.83,-.92),(-.5,-.85),(-.18,-.67),(-.02,-.55)],
    [(-.4,-.16),(-.95,-.32),(-1.12,-.4),(-1.27,-.48),(-1.35,-.53),(-1.4,-.58),(-1.42,-.61),(-1.43,-.65),(-1.42,-.7),(-1.4,-.74),(-1.33,-.8),(-1.25,-.84),(-.99,-.89),(-.78,-.87),(-.47,-.8),(-.18,-.64),(0,-.5)],
    [(-.36,-.18),(-.85,-.34),(-1.01,-.42),(-1.15,-.5),(-1.23,-.54),(-1.28,-.57),(-1.3,-.61),(-1.29,-.66),(-1.27,-.7),(-1.2,-.75),(-1.12,-.79),(-.91,-.83),(-.7,-.81),(-.42,-.73),(-.16,-.58),(.02,-.45)],
    [(-.33,-.2),(-.8,-.35),(-.95,-.43),(-1.08,-.5),(-1.16,-.54),(-1.21,-.56),(-1.23,-.59),(-1.22,-.63),(-1.2,-.66),(-1.12,-.7),(-1.03,-.74),(-.73,-.77),(-.48,-.7),(-.22,-.57),(.02,-.42)],
    [(-.3,-.22),(-.76,-.36),(-.9,-.43),(-1.03,-.5),(-1.1,-.53),(-1.15,-.55),(-1.17,-.58),(-1.15,-.63),(-1.12,-.67),(-1.03,-.73),(-.91,-.78),(-.62,-.75),(-.35,-.63),(-.12,-.5)],
    [(-.28,-.24),(-.72,-.37),(-.86,-.44),(-.98,-.5),(-1.04,-.51),(-1.07,-.52),(-1.09,-.54),(-1.07,-.59),(-1.04,-.63),(-.92,-.69),(-.75,-.73),(-.5,-.68),(-.28,-.56),(-.08,-.44)],
    [(-.28,-.26),(-.68,-.38),(-.8,-.43),(-.92,-.48),(-.99,-.5),(-1,-.52),(-.98,-.56),(-.95,-.6),(-.85,-.65),(-.73,-.68),(-.48,-.63),(-.27,-.53),(-.08,-.42)],
    [(-.3,-.27),(-.62,-.38),(-.74,-.42),(-.85,-.46),(-.9,-.48),(-.91,-.49),(-.89,-.53),(-.85,-.56),(-.67,-.62),(-.46,-.58),(-.27,-.49)],
    [(-.35,-.27),(-.6,-.36),(-.76,-.43),(-.81,-.47),(-.78,-.51),(-.62,-.55),(-.44,-.52),(-.27,-.44)],
    [(-.48,-.35),(-.65,-.37),(-.75,-.42),(-.78,-.44),(-.7,-.47),(-.58,-.49),(-.4,-.46)],
    [(-.5,-.31),(-.38,-.32),(-.26,-.31),(-.2,-.27),(-.3,-.22),(-.42,-.24),(-.5,-.31)],
    [(-.48,-.27),(-.38,-.2),(-.24,-.18),(-.14,-.22),(-.2,-.3),(-.34,-.34)],
    [(-.62,-.1),(-1.1,-.23),(-1.27,-.32),(-1.44,-.42),(-1.56,-.52),(-1.62,-.6),(-1.62,-.72),(-1.56,-.82),(-1.36,-.94),(-1.1,-.99),(-.85,-.97),(-.5,-.88),(-.2,-.72)],
    [(-.55,-.12),(-1.02,-.25),(-1.2,-.34),(-1.36,-.44),(-1.47,-.54),(-1.54,-.62),(-1.53,-.72),(-1.46,-.82),(-1.3,-.91),(-1.1,-.96),(-.85,-.94),(-.5,-.84),(-.22,-.68)],
    [(-.5,-.14),(-.95,-.27),(-1.12,-.35),(-1.28,-.45),(-1.38,-.55),(-1.45,-.63),(-1.44,-.72),(-1.36,-.8),(-1.2,-.88),(-1.02,-.92),(-.8,-.9),(-.5,-.8),(-.22,-.65)],
]

# right chart, bottom right wing
c2_br = [
    [(.42,-.04),(1,-.25),(1.27,-.36),(1.53,-.49),(1.7,-.62),(1.8,-.72),(1.83,-.79),(1.8,-.88),(1.7,-.96),(1.54,-1.03),(1.35,-1.08),(1.2,-1.1),(1.06,-1.1),(.86,-1.08),(.66,-1.05),(.48,-.98),(.31,-.89),(.02,-.66),(-.27,-.38),(-.5,-.15)],
    [(.38,-.06),(.95,-.26),(1.22,-.37),(1.46,-.5),(1.62,-.63),(1.71,-.72),(1.73,-.78),(1.7,-.86),(1.62,-.94),(1.48,-1),(1.32,-1.05),(1.04,-1.07),(.66,-1.02),(.3,-.85),(.02,-.62),(-.25,-.36)],
    [(.35,-.05),(.93,-.26),(1.18,-.38),(1.41,-.51),(1.55,-.63),(1.63,-.72),(1.65,-.77),(1.62,-.84),(1.55,-.91),(1.4,-.98),(1.26,-1.02),(1,-1.04),(.64,-.99),(.29,-.82),(.02,-.6)],
    [(.32,-.04),(.9,-.27),(1.14,-.39),(1.36,-.52),(1.49,-.64),(1.55,-.72),(1.56,-.76),(1.53,-.84),(1.48,-.9),(1.36,-.96),(1.22,-1),(.98,-1.02),(.62,-.96),(.28,-.8),(.02,-.58),(-.22,-.34)],
    [(.28,-.05),(.86,-.28),(1.08,-.39),(1.28,-.52),(1.4,-.63),(1.45,-.7),(1.45,-.75),(1.4,-.81),(1.3,-.86),(1.15,-.91),(.94,-.93),(.62,-.88),(.3,-.71),(.03,-.52),(-.2,-.3)],
    [(.26,-.05),(.82,-.29),(1.03,-.39),(1.2,-.5),(1.29,-.58),(1.33,-.66),(1.33,-.72),(1.3,-.78),(1.22,-.81),(1.12,-.83),(.89,-.84),(.6,-.78),(.3,-.63),(.04,-.46),(-.2,-.28)],
    [(.22,-.08),(.75,-.29),(.94,-.39),(1.1,-.5),(1.21,-.57),(1.28,-.64),(1.28,-.7),(1.26,-.75),(1.18,-.79),(1.08,-.82),(.87,-.83),(.58,-.76),(.29,-.62),(.04,-.43)],
    [(.2,-.1),(.7,-.31),(.87,-.4),(1.02,-.5),(1.12,-.59),(1.18,-.66),(1.17,-.7),(1.14,-.73),(1,-.76),(.83,-.76),(.56,-.7),(.28,-.56),(.04,-.4)],
    [(.18,-.12),(.62,-.3),(.78,-.37),(.9,-.44),(.96,-.49),(1,-.52),(.99,-.54),(.97,-.55),(.82,-.58),(.66,-.57),(.46,-.52),(.24,-.42),(.06,-.32)],
    [(.2,-.15),(.55,-.3),(.68,-.36),(.78,-.42),(.82,-.44),(.83,-.46),(.82,-.48),(.8,-.5),(.7,-.52),(.56,-.5),(.38,-.44),(.2,-.36)],
    [(.25,-.18),(.42,-.2),(.52,-.28),(.6,-.36),(.66,-.42),(.6,-.45),(.46,-.44),(.3,-.4)],
    [(.25,-.24),(.4,-.26),(.5,-.33),(.54,-.38),(.48,-.4),(.36,-.38),(.24,-.32)],
]

# right chart, the lines through the middle
c2_mid = [
    [(.44,.28),(.52,.12),(.6,.07),(.66,.06)],[(.47,.28),(.52,.12),(.56,.05),(.6,.03)],[(.28,.4),(.38,.18),(.44,.07),(.5,.04)],
    [(.23,.34),(.32,.15),(.37,.06),(.42,.03)],[(.21,.28),(.28,.14),(.33,.08),(.38,.06)],[(.2,.25),(.26,.13),(.3,.09),(.35,.08)],
    [(.15,.16),(.22,.1),(.3,.1)],[(.14,.18),(.2,.12),(.28,.12)],[(0,.36),(.12,.2),(.26,.12)],[(.02,.34),(.12,.2),(.24,.14)],
    [(.03,.32),(.12,.2),(.22,.16)],[(.03,.3),(.1,.22),(.25,.27)],[(.07,.28),(.15,.24),(.25,.27)],[(.03,.28),(.15,.26),(.3,.3)],
    [(-.5,.16),(-.65,.08),(-.8,.05),(-.94,.04)],[(-.46,.14),(-.6,.05),(-.72,.02),(-.83,.02)],[(-.26,.35),(-.5,.15),(-.7,.1),(-.83,.085)],
    [(-.22,.32),(-.4,.15),(-.55,.08),(-.67,.06)],[(-.2,.3),(-.35,.15),(-.45,.1),(-.54,.1)],[(-.18,.28),(-.32,.12),(-.4,.08),(-.5,.08)],
    [(-.14,.26),(-.28,.12),(-.36,.1),(-.44,.11)],[(-.12,.25),(-.25,.14),(-.42,.12)],[(-.1,.28),(-.22,.16),(-.4,.14)],[(-.08,.3),(-.2,.17),(-.38,.15)],
    [(.34,-.62),(.36,-.3),(.38,-.1),(.42,-.04)],[(.31,-.62),(.32,-.3),(.34,-.12),(.38,-.06)],[(.31,-.58),(.3,-.28),(.3,-.1),(.35,-.05)],
    [(.07,-.72),(.2,-.4),(.28,-.12),(.32,-.04)],[(.15,-.6),(.2,-.35),(.22,-.12),(.28,-.05)],[(.07,-.59),(.16,-.32),(.2,-.12),(.26,-.05)],
    [(.08,-.56),(.14,-.3),(.18,-.12),(.22,-.08)],[(-.02,-.55),(.1,-.3),(.15,-.14),(.2,-.1)],[(0,-.5),(.08,-.28),(.13,-.15),(.18,-.12)],
    [(.02,-.45),(.07,-.26),(.13,-.16),(.2,-.15)],[(.02,-.42),(.07,-.28),(.15,-.18),(.25,-.18)],[(-.12,-.5),(.02,-.3),(.12,-.2),(.25,-.24)],[(-.08,-.44),(.02,-.28),(.1,-.22),(.25,-.24)],
    [(-.5,-.15),(-.65,-.08),(-.85,-.05),(-1.06,-.05)],[(-.27,-.38),(-.4,-.2),(-.7,-.12),(-1.16,-.11)],[(-.25,-.36),(-.35,-.16),(-.55,-.08),(-.83,-.05)],
    [(-.22,-.34),(-.32,-.15),(-.5,-.08),(-.75,-.06)],[(-.2,-.3),(-.3,-.14),(-.45,-.09),(-.67,-.08)],[(-.2,-.28),(-.28,-.16),(-.42,-.12),(-.59,-.12)],
    [(.04,-.46),(-.1,-.28),(-.25,-.14),(-.57,-.1)],[(.04,-.43),(-.1,-.26),(-.22,-.14),(-.42,-.14)],[(.04,-.4),(-.08,-.25),(-.2,-.15),(-.4,-.16)],
    [(.06,-.32),(-.05,-.24),(-.2,-.18),(-.36,-.18)],[(.2,-.36),(0,-.26),(-.15,-.2),(-.33,-.2)],[(.3,-.4),(.05,-.28),(-.12,-.22),(-.3,-.22)],[(.24,-.32),(.05,-.25),(-.1,-.24),(-.28,-.24)],
    [(-.02,.3),(-.05,.1),(-.03,-.1),(.02,-.25)],[(.02,.28),(-.02,.1),(-.05,-.1),(-.02,-.28)],[(-.05,.25),(-.02,.05),(0,-.15),(.05,-.3)],
    [(0,.2),(-.05,.02),(-.06,-.15),(-.1,-.28)],[(-.08,.2),(-.03,0),(.02,-.18)],[(.05,.22),(0,.03),(-.03,-.2)],[(-.12,.15),(-.05,-.02),(-.06,-.2)],[(.1,.12),(.02,-.03),(.04,-.2)],
    [(-.7,.02),(-.2,.03),(.3,0)],[(-.5,-.02),(0,0),(.4,.02)],[(-.6,0),(0,.03),(.5,.03)],
    # crossing hatch around the middle
    [(-.4,.44),(-.2,.28),(0,.12),(.18,-.02),(.36,-.16)],[(-.34,.5),(-.14,.3),(.04,.14),(.22,-.02),(.38,-.22)],[(-.28,.56),(-.08,.34),(.1,.16),(.26,0),(.4,-.12)],
    [(-.2,.6),(-.02,.38),(.16,.18),(.3,.04)],[(-.12,.62),(.04,.42),(.22,.22),(.34,.08)],[(-.42,.36),(-.24,.22),(-.04,.06),(.14,-.08),(.32,-.26)],
    [(.4,.44),(.2,.28),(0,.12),(-.18,-.02),(-.36,-.16)],[(.34,.5),(.14,.3),(-.04,.14),(-.22,-.02),(-.38,-.22)],[(.28,.56),(.08,.34),(-.1,.16),(-.26,0),(-.4,-.12)],
    [(.2,.6),(.02,.38),(-.16,.18),(-.3,.04)],[(.12,.62),(-.04,.42),(-.22,.22),(-.34,.08)],[(.42,.36),(.24,.22),(.04,.06),(-.14,-.08),(-.32,-.26)],
    [(-.38,-.14),(-.18,-.3),(.02,-.48),(.24,-.66)],[(-.3,-.1),(-.1,-.28),(.1,-.46),(.3,-.62)],[(-.2,-.08),(0,-.26),(.18,-.42),(.36,-.56)],
    [(.38,-.14),(.18,-.3),(-.02,-.48),(-.24,-.66)],[(.3,-.1),(.1,-.28),(-.1,-.46),(-.3,-.62)],[(.2,-.08),(0,-.26),(-.18,-.42),(-.36,-.56)],
    # heavy bands along the wing edges
    [(-1.38,-.41),(-1.24,-.3),(-1.1,-.22),(-.95,-.14)],[(-1.4,-.44),(-1.25,-.33),(-1.08,-.24),(-.9,-.16)],[(-1.42,-.47),(-1.26,-.36),(-1.08,-.27),(-.88,-.18)],
    [(-1.28,-.98),(-1.1,-1.02),(-.9,-1.01),(-.7,-.97)],[(-1.3,-1),(-1.1,-1.04),(-.9,-1.03),(-.72,-.99)],[(-1.25,-.92),(-1.06,-.95),(-.88,-.94),(-.7,-.9)],
    [(-1.02,-.76),(-.88,-.78),(-.72,-.77),(-.6,-.73)],[(1.02,-.81),(.9,-.84),(.75,-.82),(.6,-.77)],[(1.25,-.74),(1.15,-.8),(1,-.83),(.85,-.83)],[(1.36,-1.06),(1.2,-1.09),(1,-1.09),(.85,-1.07)],
    [(1.1,.9),(.9,.93),(.7,.9),(.55,.85)],[(.8,1.0),(.95,1.02),(1.1,1.02),(1.2,1)],[(-1.1,.8),(-.95,.82),(-.75,.8),(-.6,.75)],[(-1,.79),(-.85,.8),(-.7,.77),(-.5,.7)],
]

LINE_COLOR = "#0072BD"


def unzip(loops):
    return [[pt[0] for pt in lp] for lp in loops], [[pt[1] for pt in lp] for lp in loops]


def add_chrome(p, dx, count):
    def rounded(left, top, right, bottom, fill, line, width, radius):
        p.add_layout(BoxAnnotation(left=left + dx, right=right + dx, top=top, bottom=bottom, fill_color=fill, fill_alpha=1,
                                   line_color=line, line_width=width, line_alpha=1, border_radius=radius, level="underlay"))

    def block(left, top, right, bottom, fill):
        p.quad(left=[left + dx], right=[right + dx], top=[top], bottom=[bottom], fill_color=fill, line_color=None)

    def stroke(xs, ys, width=4, color="#111111"):
        p.line([x + dx for x in xs], ys, line_color=color, line_width=width)

    def ring(x, y, size, width, color):
        p.scatter([x + dx], [y], size=size, marker="circle", fill_color=None, line_color=color, line_width=width)

    def label(x, y, s, size, color="#555555", align="left"):
        p.text([x + dx], [y], text=[s], text_font=value("Lato"), text_font_size=size, text_color=color,
               text_align=align, text_baseline="middle")

    # card, header and image well
    rounded(42, 44, 1914, 1421, "#ffffff", "#eeeeee", 2, 26)
    block(182, 201, 1914, 1275, "#f7f7f7")
    block(371, 229, 1728, 1249, "#ffffff")
    block(43, 200, 182, 202, "#f6f6f6")
    block(43, 1275, 182, 1277, "#f6f6f6")
    label(87, 124, TITLE, "45px")
    # upload button
    rounded(1460, 77, 1869, 165, "#ffffff", "#666666", 2.5, 16)
    stroke([1507, 1507, 1541, 1541], [127, 138, 138, 127], width=3, color="#555555")
    stroke([1524, 1524], [108, 130], width=3, color="#555555")
    stroke([1517, 1524, 1531], [114, 105, 114], width=3, color="#555555")
    label(1583, 125, UPLOAD, "40px")
    # zoom column
    stroke([89, 135, 135, 89, 89], [715, 715, 761, 761, 715])
    stroke([116, 127, 127], [723, 723, 735], width=3.5)
    stroke([97, 97, 108], [742, 752, 752], width=3.5)
    ring(109, 859, 42, 4, "#111111")
    stroke([125, 135], [875, 884])
    stroke([100, 119], [859, 859])
    label(112, 1002, ZOOM, "30px", align="center")
    ring(109, 1137, 42, 4, "#111111")
    stroke([125, 135], [1153, 1162])
    stroke([100, 119], [1137, 1137])
    stroke([109.5, 109.5], [1127, 1147])
    # box / point switch
    rounded(182, 1306, 508, 1395, "#ffffff", "#dddddd", 2, 14)
    rounded(182, 1306, 334, 1395, "#2255fa", "#2255fa", 1, (14, 0, 0, 14))
    label(259, 1350, MODES[0], "38px", color="#ffffff", align="center")
    label(421, 1350, MODES[1], "38px", color="#444444", align="center")
    # detected count
    for cx in (1413, 1440):
        for cy in (1337, 1363):
            ring(cx, cy, 18, 6, "#2255fa")
    label(1476, 1350, COUNT_LABEL, "38px", color="#444444")
    label(1800, 1350, count, "38px", color="#444444", align="right")


def make_plot(width, frame_left, frame_width, wings, boxes, box_colors, dx, count):
    height = 1467
    frame_top, frame_height = 305, 826
    p = figure(width=width, height=height, x_range=Range1d(0, width), y_range=Range1d(height, 0),
               output_backend="svg", toolbar_location=None, x_axis_location=None, y_axis_location=None)
    p.min_border = 0
    p.outline_line_color = None
    p.xgrid.visible = False
    p.ygrid.visible = False
    p.background_fill_color = "#ffffff"
    p.border_fill_color = "#ffffff"

    add_chrome(p, dx, count)

    # the chart lives on its own ranges, lined up with the white image
    sx = frame_width / 5
    sy = frame_height / 3
    x0 = -2.5 - frame_left / sx
    y1 = 1.5 + frame_top / sy
    p.extra_x_ranges = {"chart": Range1d(x0, x0 + width / sx)}
    p.extra_y_ranges = {"chart": Range1d(y1 - height / sy, y1)}
    names = dict(x_range_name="chart", y_range_name="chart")

    p.segment(TICKS_X, [-1.5] * len(TICKS_X), TICKS_X, [1.5] * len(TICKS_X), line_color="#e4e4e4", line_width=2.5, **names)
    p.segment([-2.5] * len(TICKS_Y), TICKS_Y, [2.5] * len(TICKS_Y), TICKS_Y, line_color="#e4e4e4", line_width=2.5, **names)

    for loops in wings:
        xs, ys = unzip(loops)
        p.multi_line(xs, ys, line_color=LINE_COLOR, line_alpha=0.75, line_width=2.6, line_dash="44 7 22 6", **names)

    left, right, top, bottom = boxes
    p.quad(left=left, right=right, top=top, bottom=bottom, fill_alpha=0, line_color=box_colors, line_width=4.5, **names)

    placed = ((TICKS_X, TICK_LABELS_X, "below", -1.5, (-2.5, 2.5), "x(t)"),
              (TICKS_Y, TICK_LABELS_Y, "left", -2.5, (-1.5, 1.5), "y(t)"),
              (TICKS_X, None, "above", 1.5, (-2.5, 2.5), None),
              (TICKS_Y, None, "right", 2.5, (-1.5, 1.5), None))
    for ticks, labels, place, where, bounds, title in placed:
        ax = LinearAxis(ticker=FixedTicker(ticks=ticks), fixed_location=where, bounds=bounds, **names)
        ax.major_tick_in = 10
        ax.major_tick_out = 0
        ax.minor_tick_line_color = None
        ax.major_tick_line_color = "#555555"
        ax.major_tick_line_width = 2
        ax.axis_line_color = "#555555"
        ax.axis_line_width = 2.5
        ax.major_label_overrides = dict(zip(ticks, labels)) if labels else {t: "" for t in ticks}
        ax.major_label_text_font = "Liberation Serif"
        ax.major_label_text_font_size = "31px"
        ax.major_label_text_color = "#444444"
        ax.major_label_standoff = 18 if place == "below" else 14
        if place == "left":
            ax.major_label_orientation = "horizontal"
        if title:
            ax.axis_label = title
            ax.axis_label_text_font = "Liberation Sans"
            ax.axis_label_text_font_style = "normal"
            ax.axis_label_text_font_size = "48px"
            ax.axis_label_text_color = "#333333"
            ax.axis_label_standoff = 18
        p.add_layout(ax, place)
    return p


p1 = make_plot(1950, 546, 1053, [c1_tl, c1_tr, c1_bl, c1_br, c1_mid],
               (BOX1_LEFT, BOX1_RIGHT, BOX1_TOP, BOX1_BOTTOM), ["#a445f0"], 0, COUNT_LEFT)
p2 = make_plot(1922, 511, 1055, [c2_tl, c2_tr, c2_bl, c2_br, c2_mid],
               (BOX2_LEFT, BOX2_RIGHT, BOX2_TOP, BOX2_BOTTOM), BOX2_COLORS, -35, COUNT_RIGHT)

layout = row(p1, p2, spacing=0)
open("out.html", "w").write(file_html(layout, INLINE))
